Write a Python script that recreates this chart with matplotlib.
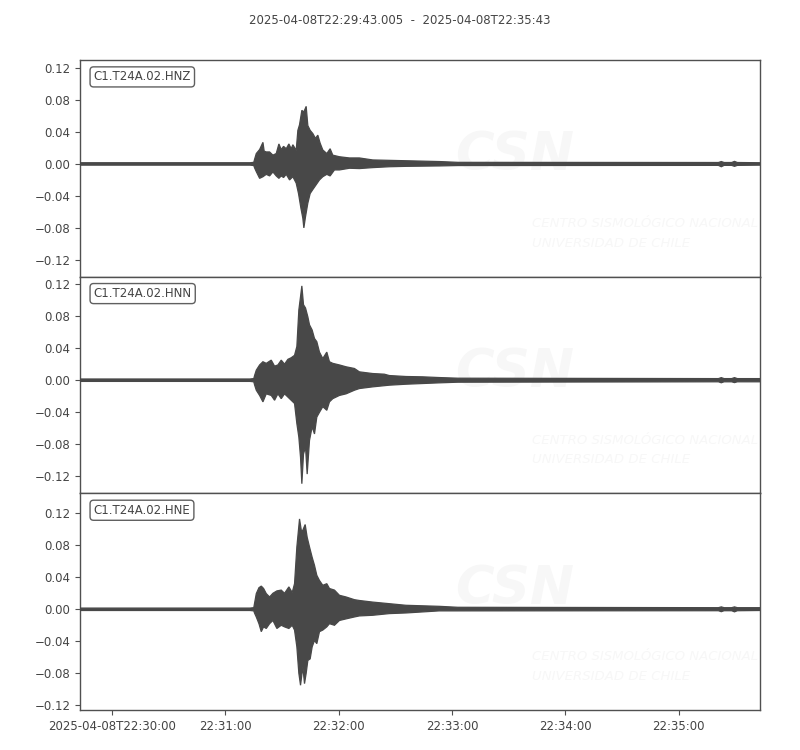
import numpy as np
import matplotlib
matplotlib.use("Agg")
import matplotlib.pyplot as plt

plt.rcParams['font.family'] = ['DejaVu Sans']

TITLE = "2025-04-08T22:29:43.005  -  2025-04-08T22:35:43"
CHANNELS = ["C1.T24A.02.HNZ", "C1.T24A.02.HNN", "C1.T24A.02.HNE"]
DURATION = 360.0  # seconds after 22:29:43.005
TICK_SECONDS = [16.995, 76.995, 136.995, 196.995, 256.995, 316.995]
TICK_LABELS = ["2025-04-08T22:30:00", "22:31:00", "22:32:00",
               "22:33:00", "22:34:00", "22:35:00"]
Y_TICKS = [-0.12, -0.08, -0.04, 0.0, 0.04, 0.08, 0.12]
Y_LIMITS = [(-0.141, 0.130), (-0.141, 0.129), (-0.126, 0.145)]

# ---- envelope of each trace (time s, value) ----
HNZ_UP_T = [0, 90, 92.0, 92.45, 93.33, 95.09, 96.85, 97.5, 98.61, 100.37, 102.13, 103.89, 105.30,
            106.53, 107.77, 109.18, 110.58, 111.82, 112.70, 114.46, 115.34, 116.22, 117.45,
            118.51, 119.74, 120.62, 121.85, 123.26, 124.67, 125.90, 127.13, 128.54, 130.66,
            132.42, 133.83, 137.35, 142.63, 147.91, 154.96, 163.76, 172.56, 190.17, 200,
            338, 339.5, 341, 345, 346.5, 348, 360]
HNZ_UP_V = [0.0015, 0.0015, 0.002, 0.006, 0.013, 0.018, 0.027, 0.016, 0.015, 0.015, 0.011, 0.013, 0.025,
            0.018, 0.022, 0.019, 0.025, 0.019, 0.024, 0.017, 0.042, 0.049, 0.067,
            0.065, 0.072, 0.048, 0.042, 0.038, 0.032, 0.036, 0.026, 0.0175, 0.013,
            0.019, 0.011, 0.009, 0.0075, 0.0075, 0.005, 0.0045, 0.004, 0.003, 0.002,
            0.0018, 0.003, 0.0018, 0.0018, 0.0032, 0.0018, 0.0015]
HNZ_LO_T = [0, 90, 92.0, 92.45, 93.33, 95.09, 96.85, 98.61, 100.37, 102.13, 103.89, 105.30, 106.53,
            107.77, 109.18, 110.94, 112.70, 114.46, 115.68, 116.93, 117.98, 118.51, 119.39,
            120.62, 121.85, 123.26, 125.02, 126.78, 128.54, 130.66, 132.42, 134.71, 137.35,
            142.63, 147.91, 154.96, 163.76, 172.56, 190.17, 200, 338, 339.5, 341, 345, 346.5, 348, 360]
HNZ_LO_V = [-0.0015, -0.0015, -0.002, -0.005, -0.0096, -0.018, -0.016, -0.013, -0.015, -0.010, -0.015,
            -0.018, -0.015, -0.017, -0.013, -0.020, -0.016, -0.024, -0.037, -0.055, -0.068,
            -0.080, -0.066, -0.049, -0.037, -0.032, -0.026, -0.020, -0.016, -0.013, -0.015,
            -0.0075, -0.0075, -0.0054, -0.0058, -0.0046, -0.0035, -0.003, -0.0025, -0.002,
            -0.0018, -0.0035, -0.0018, -0.0018, -0.003, -0.0018, -0.0015]

HNN_UP_T = [0, 90, 92.0, 92.45, 93.33, 95.09, 96.85, 98.61, 101.25, 103.01, 104.77, 106.53, 108.29,
            110.06, 111.82, 113.58, 114.81, 115.86, 116.75, 117.45, 118.33, 119.39, 120.62,
            121.50, 122.91, 124.14, 125.37, 126.78, 128.54, 130.66, 132.07, 133.83, 137.35,
            140.87, 145.28, 147.91, 154.96, 161.12, 163.76, 172.56, 181.37, 190.17, 200,
            338, 339.5, 341, 345, 346.5, 348, 360]
HNN_UP_V = [0.0015, 0.0015, 0.002, 0.006, 0.0125, 0.019, 0.023, 0.021, 0.025, 0.0175, 0.019, 0.025,
            0.020, 0.026, 0.028, 0.031, 0.042, 0.0875, 0.104, 0.1175, 0.094, 0.090, 0.079,
            0.069, 0.0625, 0.052, 0.048, 0.035, 0.027, 0.035, 0.023, 0.021, 0.019,
            0.0167, 0.0146, 0.0104, 0.0083, 0.0075, 0.0058, 0.0046, 0.0042, 0.0033, 0.0025,
            0.002, 0.0032, 0.002, 0.002, 0.0032, 0.002, 0.002]
HNN_LO_T = [0, 90, 92.0, 92.45, 93.33, 95.09, 96.85, 98.61, 101.25, 103.01, 104.77, 106.53, 108.29,
            110.06, 111.82, 113.58, 114.81, 115.86, 116.75, 117.45, 118.33, 119.39, 120.27,
            121.50, 122.91, 124.14, 125.37, 126.78, 128.54, 130.66, 132.07, 133.83, 137.35,
            140.87, 145.28, 147.91, 154.96, 163.76, 172.56, 190.17, 200,
            338, 339.5, 341, 345, 346.5, 348, 360]
HNN_LO_V = [-0.0015, -0.0015, -0.002, -0.006, -0.0125, -0.019, -0.027, -0.017, -0.019, -0.025, -0.017,
            -0.023, -0.017, -0.021, -0.025, -0.029, -0.054, -0.071, -0.096, -0.129, -0.092,
            -0.083, -0.117, -0.075, -0.058, -0.067, -0.046, -0.040, -0.033, -0.0375, -0.027,
            -0.023, -0.019, -0.017, -0.0125, -0.0104, -0.0083, -0.0062, -0.005, -0.0033, -0.0025,
            -0.002, -0.0032, -0.002, -0.002, -0.003, -0.002, -0.002]

HNE_UP_T = [0, 90, 92.0, 92.45, 93.33, 94.74, 95.97, 97.20, 98.61, 100.37, 102.13, 104.24, 106.53,
            108.29, 110.58, 112.35, 113.58, 114.81, 116.22, 117.28, 117.98, 119.21, 120.27,
            121.50, 122.91, 124.14, 125.37, 126.78, 128.54, 130.66, 132.07, 134.71, 137.35,
            140.87, 145.28, 147.91, 154.96, 163.76, 172.56, 190.17, 200,
            338, 339.5, 341, 345, 346.5, 348, 360]
HNE_UP_V = [0.0015, 0.0015, 0.002, 0.008, 0.0196, 0.027, 0.029, 0.026, 0.0196, 0.0154, 0.020, 0.023,
            0.024, 0.020, 0.028, 0.021, 0.032, 0.078, 0.113, 0.097, 0.099, 0.106, 0.090,
            0.078, 0.065, 0.055, 0.0425, 0.036, 0.030, 0.032, 0.026, 0.024, 0.0175,
            0.0154, 0.012, 0.011, 0.009, 0.007, 0.005, 0.0037, 0.0025,
            0.002, 0.003, 0.002, 0.002, 0.003, 0.002, 0.002]
HNE_LO_T = [0, 90, 92.0, 92.45, 93.33, 94.74, 95.97, 97.20, 98.61, 100.37, 102.13, 104.24, 106.53,
            108.29, 110.58, 112.35, 113.58, 114.81, 115.86, 116.75, 117.98, 118.86, 119.74,
            120.62, 121.85, 122.91, 124.14, 125.37, 126.78, 128.54, 130.66, 132.07, 134.71,
            137.35, 140.87, 145.28, 147.91, 154.96, 163.76, 172.56, 190.17, 200,
            338, 339.5, 341, 345, 346.5, 348, 360]
HNE_LO_V = [-0.0015, -0.0015, -0.002, -0.005, -0.0096, -0.018, -0.028, -0.022, -0.024, -0.018, -0.014,
            -0.024, -0.020, -0.022, -0.024, -0.020, -0.026, -0.047, -0.080, -0.095, -0.072,
            -0.093, -0.080, -0.064, -0.062, -0.047, -0.039, -0.043, -0.028, -0.026, -0.022,
            -0.018, -0.020, -0.014, -0.012, -0.0096, -0.0083, -0.0075, -0.0054, -0.0046,
            -0.002, -0.002, -0.0018, -0.003, -0.0018, -0.0018, -0.0032, -0.0018, -0.0015]

ENVELOPES = [
    (HNZ_UP_T, HNZ_UP_V, HNZ_LO_T, HNZ_LO_V),
    (HNN_UP_T, HNN_UP_V, HNN_LO_T, HNN_LO_V),
    (HNE_UP_T, HNE_UP_V, HNE_LO_T, HNE_LO_V),
]

TRACE_COLOR = "#484848"
TEXT_COLOR = "#444444"
SPINE_COLOR = "#505050"
WM_COLOR = "#f7f7f7"

fig = plt.figure(figsize=(8, 7.5), dpi=100)
left, right = 0.10, 0.95
top, bottom = 0.92, 0.0533
h = (top - bottom) / 3.0

axes = []
for i in range(3):
    ax = fig.add_axes([left, top - (i + 1) * h, right - left, h])
    axes.append(ax)
    ut, uv, lt, lv = ENVELOPES[i]
    ut = np.asarray(ut, float); uv = np.asarray(uv, float)
    lt = np.asarray(lt, float); lv = np.asarray(lv, float)
    xs = np.concatenate([ut, lt[::-1]])
    ys = np.concatenate([uv, lv[::-1]])
    ax.fill(xs, ys, facecolor=TRACE_COLOR, edgecolor=TRACE_COLOR,
            linewidth=0.9, zorder=3)

    # faint watermark
    ax.text(0.552, 0.44, "CSN", transform=ax.transAxes, fontsize=38,
            fontweight='bold', fontstyle='italic', color=WM_COLOR,
            ha='left', va='bottom', zorder=0, clip_on=True)
    ax.text(0.665, 0.245, "CENTRO SISMOLÓGICO NACIONAL", transform=ax.transAxes,
            fontsize=9.5, fontstyle='italic', color=WM_COLOR, ha='left',
            va='center', zorder=0, clip_on=True)
    ax.text(0.665, 0.155, "UNIVERSIDAD DE CHILE", transform=ax.transAxes,
            fontsize=9.5, fontstyle='italic', color=WM_COLOR, ha='left',
            va='center', zorder=0, clip_on=True)

    ax.text(0.02, 0.952, CHANNELS[i], transform=ax.transAxes, fontsize=8.5,
            color=TEXT_COLOR, ha='left', va='top', zorder=5,
            bbox=dict(boxstyle='round,pad=0.3', facecolor='white',
                      edgecolor='#606060', linewidth=1.0))

    ax.set_xlim(0, DURATION)
    ax.set_ylim(*Y_LIMITS[i])
    ax.set_yticks(Y_TICKS)
    ax.tick_params(axis='y', labelsize=8.5, colors=TEXT_COLOR, length=3.5,
                   color=SPINE_COLOR)
    for sp in ax.spines.values():
        sp.set_color(SPINE_COLOR)
        sp.set_linewidth(1.0)
    if i < 2:
        ax.set_xticks([])
    else:
        ax.set_xticks(TICK_SECONDS)
        ax.set_xticklabels(TICK_LABELS)
        ax.tick_params(axis='x', labelsize=8.5, colors=TEXT_COLOR, length=3.5,
                       color=SPINE_COLOR)

fig.text(0.5, 0.973, TITLE, ha='center', va='center', fontsize=8.5,
         color=TEXT_COLOR)

fig.savefig("out.png", dpi=100)
